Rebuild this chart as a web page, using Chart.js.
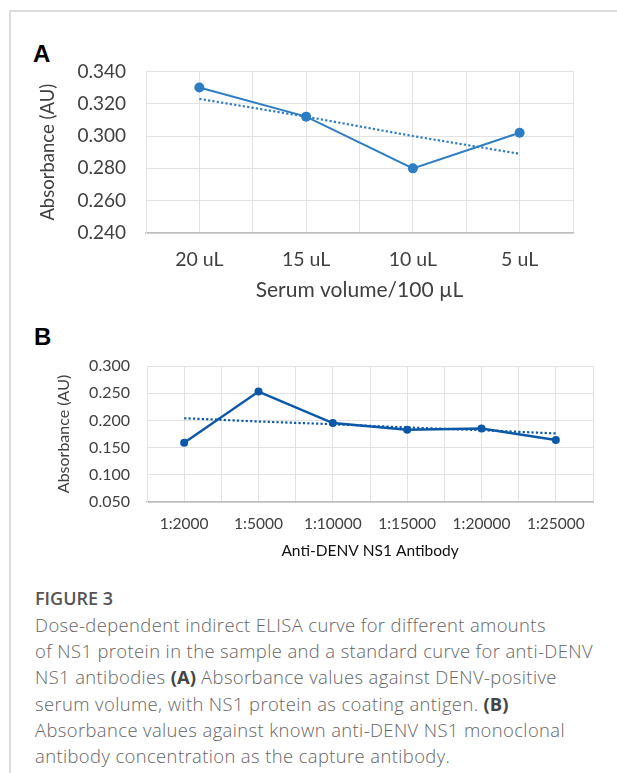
<!DOCTYPE html>
<html>
<head>
<meta charset="utf-8">
<script src="https://cdn.jsdelivr.net/npm/chart.js@4"></script>
<style>
  body { margin: 0; background: #fff; width: 617px; height: 773px; overflow: hidden; position: relative; font-family: "Open Sans", sans-serif; }
  #marco { position: absolute; left: 9px; top: 10px; width: 700px; height: 800px; border: 2px solid #dcdcdc; }
  .letra { position: absolute; font-family: "Liberation Sans", Arial, sans-serif; font-weight: bold; font-size: 24px; color: #000; }
  .cuadro { position: absolute; left: 0; width: 617px; }
  #titulo { position: absolute; left: 35px; top: 586px; font-size: 18px; font-weight: 600; color: #555; }
  #leyenda { position: absolute; left: 35px; top: 612px; font-size: 18.4px; font-weight: 300; letter-spacing: 0.4px; line-height: 26.2px; color: #666; white-space: nowrap; }
  #leyenda b { color: #444; font-weight: 700; letter-spacing: 0; }
</style>
</head>
<body>
<div id="marco"></div>
<div class="letra" style="left:33px; top:40px;">A</div>
<div class="cuadro" style="top:40px; height:275px;"><canvas id="graficoA"></canvas></div>
<div class="letra" style="left:34px; top:323px;">B</div>
<div class="cuadro" style="top:330px; height:240px;"><canvas id="graficoB"></canvas></div>
<div id="titulo">FIGURE 3</div>
<div id="leyenda">Dose-dependent indirect ELISA curve for different amounts<br>of NS1 protein in the sample and a standard curve for anti-DENV<br>NS1 antibodies <b>(A)</b> Absorbance values against DENV-positive<br>serum volume, with NS1 protein as coating antigen. <b>(B)</b><br>Absorbance values against known anti-DENV NS1 monoclonal<br>antibody concentration as the capture antibody.</div>

<script>
// panel A
var volumenes = ['20 uL', '15 uL', '10 uL', '5 uL'];
var absorbanciaA = [0.330, 0.312, 0.280, 0.302];
var tendenciaA = [0.323, 0.312, 0.300, 0.289];
var ticksA = [0.240, 0.260, 0.280, 0.300, 0.320, 0.340];

// panel B
var diluciones = ['1:2000', '1:5000', '1:10000', '1:15000', '1:20000', '1:25000'];
var absorbanciaB = [0.159, 0.253, 0.195, 0.183, 0.185, 0.164];
var tendenciaB = [0.204, 0.198, 0.193, 0.187, 0.182, 0.176];
var ticksB = [0.050, 0.100, 0.150, 0.200, 0.250, 0.300];

var colorA = '#2d7dc4';
var colorB = '#0b58a8';
var colorGrid = '#e2e2e2';
var fuente = 'Lato, "Open Sans", sans-serif';

function aPuntos (valores) {
    return valores.map(function (v, i) { return {x: i, y: v}; });
}

function generarGrafico (idCanvas, cfg) {

    var cuadroGrafico = document.getElementById(idCanvas);

    var datosImprimir = {
        datasets: [{
            label: 'datos',
            data: aPuntos(cfg.valores),
            borderColor: cfg.color,
            backgroundColor: cfg.color,
            borderWidth: cfg.grosor,
            pointRadius: cfg.radio,
            pointBorderWidth: 0,
            lineTension: 0
        }, {
            label: 'tendencia',
            data: aPuntos(cfg.tendencia),
            borderColor: cfg.color,
            borderWidth: 2.2,
            borderDash: [2.2, 2.2],
            pointRadius: 0,
            lineTension: 0
        }]
    };

    var chartOptions = {
        responsive: true,
        maintainAspectRatio: false,
        animation: false,
        layout: { padding: cfg.margen },
        plugins: { legend: { display: false }, tooltip: { enabled: false } },
        scales: {
            x: {
                type: 'linear',
                min: -0.5,
                max: cfg.categorias.length - 0.5,
                afterBuildTicks: function (eje) {
                    var t = [];
                    for (var k = -1; k <= cfg.categorias.length * 2 - 1; k++) t.push({value: k / 2});
                    eje.ticks = t;
                },
                afterFit: function (eje) { eje.height = cfg.altoX; },
                grid: { color: colorGrid, drawTicks: false },
                border: { color: '#bdbdbd', width: 1.5 },
                ticks: {
                    autoSkip: false,
                    maxRotation: 0,
                    padding: cfg.padX,
                    color: '#404040',
                    font: { family: fuente, size: cfg.tamTicksX },
                    callback: function (v) {
                        return Number.isInteger(v) ? cfg.categorias[v] : '';
                    }
                },
                title: {
                    display: true,
                    text: cfg.tituloX,
                    color: cfg.colorTituloX,
                    padding: { top: 0, bottom: 2 },
                    font: { family: fuente, size: cfg.tamTituloX }
                }
            },
            y: {
                min: cfg.ticksY[0],
                max: cfg.ticksY[cfg.ticksY.length - 1],
                afterBuildTicks: function (eje) {
                    eje.ticks = cfg.ticksY.map(function (v) { return {value: v}; });
                },
                afterFit: function (eje) { eje.width = cfg.anchoY; },
                grid: { color: colorGrid, drawTicks: false },
                border: { color: colorGrid },
                ticks: {
                    padding: cfg.padY,
                    color: '#404040',
                    font: { family: fuente, size: cfg.tamTicksY },
                    callback: function (v) { return v.toFixed(3); }
                },
                title: {
                    display: true,
                    text: 'Absorbance (AU)',
                    color: '#404040',
                    padding: 0,
                    font: { family: fuente, size: cfg.tamTituloY }
                }
            }
        }
    };

    return new Chart(cuadroGrafico, {
        type: 'line',
        data: datosImprimir,
        options: chartOptions
    });
}

generarGrafico('graficoA', {
    categorias: volumenes, valores: absorbanciaA, tendencia: tendenciaA, ticksY: ticksA,
    color: colorA, grosor: 2, radio: 5,
    margen: { left: 37, top: 28, right: 44, bottom: 10 },
    anchoY: 109, altoX: 72, padX: 15, padY: 20,
    tamTicksX: 19.5, tamTicksY: 19, tamTituloX: 21, tamTituloY: 18.5,
    tituloX: 'Serum volume/100 \u00b5L', colorTituloX: '#404040'
});

generarGrafico('graficoB', {
    categorias: diluciones, valores: absorbanciaB, tendencia: tendenciaB, ticksY: ticksB,
    color: colorB, grosor: 2.5, radio: 4,
    margen: { left: 54, top: 36, right: 24, bottom: 8 },
    anchoY: 93, altoX: 60, padX: 13, padY: 17,
    tamTicksX: 15.5, tamTicksY: 16, tamTituloX: 15.5, tamTituloY: 16,
    tituloX: 'Anti-DENV NS1 Antibody', colorTituloX: '#111'
});
</script>
</body>
</html>
